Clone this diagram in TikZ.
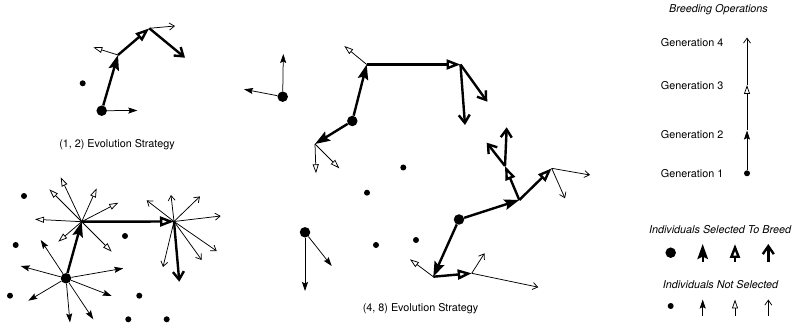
\documentclass[tikz,border=0pt]{standalone}
\usepackage{fontspec}
\setmainfont{TeX Gyre Heros}
\usetikzlibrary{arrows.meta}
\tikzset{
  sel/.style={line width=2.4pt},
  uns/.style={line width=0.75pt},
  g2s/.style={sel,-{Stealth[length=15pt,width=10.5pt,inset=2.5pt]}},
  g3s/.style={sel,-{Triangle[open,length=14pt,width=10pt]}},
  g4s/.style={sel,-{Straight Barb[length=8pt,width=11pt]}},
  g2u/.style={uns,-{Stealth[length=9pt,width=6pt,inset=1.5pt]}},
  g3u/.style={uns,-{Triangle[open,length=9pt,width=6pt]}},
  g4u/.style={uns,-{Straight Barb[length=5pt,width=7pt]}},
  bigdot/.style={circle,fill,inner sep=0pt,minimum size=10.5pt},
  smalldot/.style={circle,fill,inner sep=0pt,minimum size=6pt},
  lbl/.style={font=\fontsize{10.8}{13}\selectfont,inner sep=0pt},
  ilbl/.style={font=\fontsize{10.8}{13}\selectfont\itshape,inner sep=0pt}
}
\begin{document}
\begin{tikzpicture}[x=1pt,y=-1pt]
\path[use as bounding box] (0,0) rectangle (793,323);

% ---------- (1,2) Evolution Strategy ----------
\node[bigdot] (a0) at (101.7,110.7) {};
\node[smalldot] (a1) at (82.7,83.3) {};
\coordinate (a2) at (118,55);
\coordinate (a2u) at (137.3,110.5);
\coordinate (a3) at (149.3,28.3);
\coordinate (a3u) at (93.3,47.3);
\coordinate (a4) at (185,57.7);
\coordinate (a4u) at (175,26);
\draw[g2s] (a0) -- (a2);
\draw[g2u] (a0) -- (a2u);
\draw[g3s] (a2) -- (a3);
\draw[g3u] (a2) -- (a3u);
\draw[g4s] (a3) -- (a4);
\draw[g4u] (a3) -- (a4u);
\node[lbl] (t12) at (117,145) {(1, 2) Evolution Strategy};

% ---------- bottom-left ----------
\node[bigdot] (b0) at (66,278.3) {};
\node[smalldot] (bs1) at (24,196) {};
\node[smalldot] (bs2) at (15.7,245) {};
\node[smalldot] (bs3) at (10,295.7) {};
\node[smalldot] (bs4) at (125,236) {};
\node[smalldot] (bs5) at (139.3,295.7) {};
\node[smalldot] (bs6) at (128.3,319.3) {};
\node[smalldot] (bs7) at (166.7,319.3) {};
\coordinate (b1) at (81.7,221.7);
\coordinate (b2) at (174,221.5);
\coordinate (b3) at (179.3,281.7);
\coordinate (bu1) at (40.7,240);
\coordinate (bu2) at (20.7,266);
\coordinate (bu3) at (123.3,268.3);
\coordinate (bu4) at (111.7,296);
\coordinate (bu5) at (28.3,300.7);
\coordinate (bu6) at (70,322.5);
\coordinate (bu7) at (93.3,319.3);
\coordinate (bv1) at (60.7,177.3);
\coordinate (bv2) at (49.3,189.3);
\coordinate (bv3) at (96.7,188.3);
\coordinate (bv4) at (118.3,202.7);
\coordinate (bv5) at (35,219.3);
\coordinate (bv6) at (58.3,241.7);
\coordinate (bv7) at (111.7,251.7);
\coordinate (bw1) at (146.7,200.4);
\coordinate (bw2) at (171,195);
\coordinate (bw3) at (200,196.4);
\coordinate (bw4) at (220.7,216);
\coordinate (bw5) at (216.7,251);
\coordinate (bw6) at (201.7,260);
\coordinate (bw7) at (163,267);
\draw[g2s] (b0) -- (b1);
\draw[g2u] (b0) -- (bu1);
\draw[g2u] (b0) -- (bu2);
\draw[g2u] (b0) -- (bu3);
\draw[g2u] (b0) -- (bu4);
\draw[g2u] (b0) -- (bu5);
\draw[g2u] (b0) -- (bu6);
\draw[g2u] (b0) -- (bu7);
\draw[g3s] (b1) -- (b2);
\draw[g3u] (b1) -- (bv1);
\draw[g3u] (b1) -- (bv2);
\draw[g3u] (b1) -- (bv3);
\draw[g3u] (b1) -- (bv4);
\draw[g3u] (b1) -- (bv5);
\draw[g3u] (b1) -- (bv6);
\draw[g3u] (b1) -- (bv7);
\draw[g4s] (b2) -- (b3);
\draw[g4u] (b2) -- (bw1);
\draw[g4u] (b2) -- (bw2);
\draw[g4u] (b2) -- (bw3);
\draw[g4u] (b2) -- (bw4);
\draw[g4u] (b2) -- (bw5);
\draw[g4u] (b2) -- (bw6);
\draw[g4u] (b2) -- (bw7);

% ---------- (4,8) Evolution Strategy ----------
\node[bigdot] (c0) at (282.7,96.7) {};
\coordinate (c1) at (283.3,54);
\coordinate (c2) at (244,89.3);
\draw[g2u] (c0) -- (c1);
\draw[g2u] (c0) -- (c2);

\node[bigdot] (d0) at (352.3,121) {};
\coordinate (d1) at (366.7,64.5);
\coordinate (d1b) at (315,144);
\coordinate (d2) at (460.5,64.5);
\coordinate (d2u) at (344.3,46);
\coordinate (d3) at (316,173.3);
\coordinate (d4) at (339.3,168.3);
\coordinate (d5) at (465,125);
\coordinate (d6) at (487.3,101.7);
\draw[g2s] (d0) -- (d1);
\draw[g2s] (d0) -- (d1b);
\draw[g3s] (d1) -- (d2);
\draw[g3u] (d1) -- (d2u);
\draw[g3u] (d1b) -- (d3);
\draw[g3u] (d1b) -- (d4);
\draw[g4s] (d2) -- (d5);
\draw[g4s] (d2) -- (d6);

\node[bigdot] (e0) at (305,232.3) {};
\coordinate (e1) at (305,291);
\coordinate (e2) at (331.7,266);
\draw[g2u] (e0) -- (e1);
\draw[g2u] (e0) -- (e2);

\node[bigdot] (f0) at (459,219.5) {};
\coordinate (f1) at (519.3,200);
\coordinate (f1b) at (433.3,276.7);
\coordinate (f2) at (505,166);
\coordinate (f2b) at (551.7,168.3);
\coordinate (f3) at (471.7,273.3);
\coordinate (f3u) at (410,259.3);
\coordinate (g1) at (506.7,127.3);
\coordinate (g2) at (486.7,142.7);
\coordinate (g3) at (590,175);
\coordinate (g4) at (565,198.3);
\coordinate (g5) at (484.5,253.3);
\coordinate (g6) at (538.3,287.2);
\draw[g2s] (f0) -- (f1);
\draw[g2s] (f0) -- (f1b);
\draw[g3s] (f1) -- (f2);
\draw[g3s] (f1) -- (f2b);
\draw[g3s] (f1b) -- (f3);
\draw[g3u] (f1b) -- (f3u);
\draw[g4s] (f2) -- (g1);
\draw[g4s] (f2) -- (g2);
\draw[g4u] (f2b) -- (g3);
\draw[g4u] (f2b) -- (g4);
\draw[g4u] (f3) -- (g5);
\draw[g4u] (f3) -- (g6);

\node[smalldot] (h1) at (403.3,167.5) {};
\node[smalldot] (h2) at (367,192.7) {};
\node[smalldot] (h3) at (376,245) {};
\node[smalldot] (h4) at (416,240) {};

\node[lbl] (t48) at (420.5,308.3) {(4, 8) Evolution Strategy};

% ---------- legend ----------
\node[ilbl] (lb) at (718.5,10) {Breeding Operations};
\node[lbl,anchor=west] (lg4) at (660.7,42.7) {Generation 4};
\node[lbl,anchor=west] (lg3) at (660.7,86) {Generation 3};
\node[lbl,anchor=west] (lg2) at (660.7,134.3) {Generation 2};
\node[lbl,anchor=west] (lg1) at (660.7,173.3) {Generation 1};
\node[smalldot] (L1) at (747,173.3) {};
\coordinate (L2) at (747,130.5);
\coordinate (L3) at (747,85);
\coordinate (L4) at (747,37.5);
\draw[g2u] (L1) -- (L2);
\draw[g3u] (L2) -- (L3);
\draw[g4u] (L3) -- (L4);

\node[ilbl] (ls) at (720,229.3) {Individuals Selected To Breed};
\node[bigdot] (ld1) at (670.7,252.7) {};
\coordinate (lsa1) at (702.7,262);
\coordinate (lsb1) at (702.7,244);
\coordinate (lsa2) at (735,262);
\coordinate (lsb2) at (735,244);
\coordinate (lsa3) at (768.3,262);
\coordinate (lsb3) at (768.3,244);
\draw[g2s] (lsa1) -- (lsb1);
\draw[g3s] (lsa2) -- (lsb2);
\draw[g4s] (lsa3) -- (lsb3);

\node[ilbl] (ln) at (720.5,285) {Individuals Not Selected};
\node[smalldot] (ld2) at (670.7,306) {};
\coordinate (lna1) at (702.7,315.5);
\coordinate (lnb1) at (702.7,299.5);
\coordinate (lna2) at (735,315.5);
\coordinate (lnb2) at (735,299.5);
\coordinate (lna3) at (768.3,315.5);
\coordinate (lnb3) at (768.3,299.5);
\draw[g2u] (lna1) -- (lnb1);
\draw[g3u] (lna2) -- (lnb2);
\draw[g4u] (lna3) -- (lnb3);
\end{tikzpicture}
\end{document}
